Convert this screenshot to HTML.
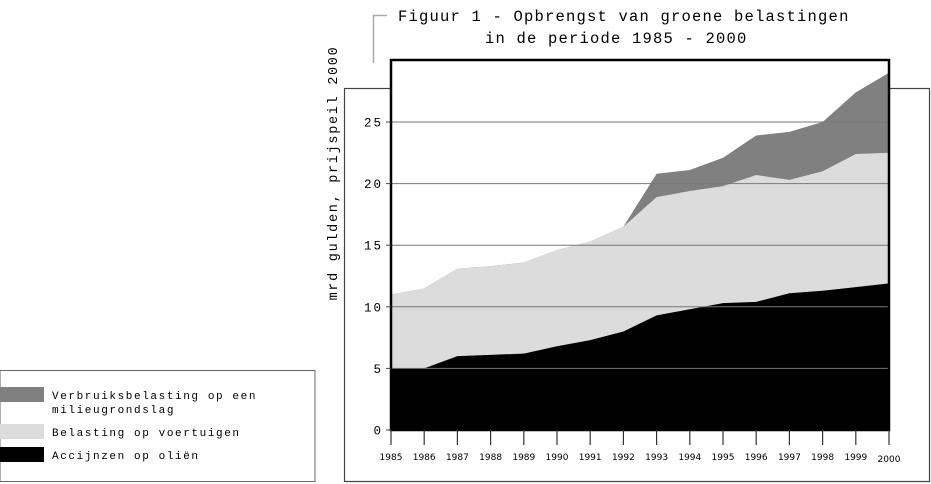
<!DOCTYPE html>
<html><head><meta charset="utf-8"><style>
body{margin:0;background:#fff;}
svg{display:block;}
.m{font-family:"Liberation Mono",monospace;}
.s{font-family:"DejaVu Sans","Liberation Sans",sans-serif;}
</style></head><body>
<svg width="931" height="484" viewBox="0 0 931 484" xmlns="http://www.w3.org/2000/svg">
<rect x="344.5" y="88.5" width="585" height="393" fill="#fff" stroke="#444" stroke-width="1.2"/>
<rect x="0" y="370.5" width="315" height="111" fill="#fff" stroke="#666" stroke-width="1"/>
<polyline points="373.5,63 373.5,15.5 387,15.5" fill="none" stroke="#aaa" stroke-width="1.5"/>
<text class="m" x="398" y="21" font-size="15.5" letter-spacing="1.2">Figuur 1 - Opbrengst van groene belastingen</text>
<text class="m" x="398" y="43" font-size="15.5" letter-spacing="1.2" dx="87">in de periode 1985 - 2000</text>
<text class="m" font-size="13.5" letter-spacing="1.7" transform="translate(337,173) rotate(-90)" text-anchor="middle">mrd gulden, prijspeil 2000</text>
<rect x="391" y="60" width="498" height="370" fill="#fff"/>
<g id="areas"></g>
<rect x="391" y="60" width="498" height="370" fill="none" stroke="#000" stroke-width="2.5"/>
<g id="ax"></g>
<rect x="0" y="387" width="44" height="15" fill="#808080"/>
<rect x="0" y="424" width="44" height="15" fill="#dcdcdc"/>
<rect x="0" y="447" width="44" height="15" fill="#000"/>
<g class="m" font-size="11" letter-spacing="1.6">
<text x="52" y="399">Verbruiksbelasting op een</text>
<text x="52" y="413">milieugrondslag</text>
<text x="52" y="436">Belasting op voertuigen</text>
<text x="52" y="459">Accijnzen op oliën</text>
</g>
</svg>
<script>
var b=[5,5,6,6.1,6.2,6.8,7.3,8,9.3,9.8,10.3,10.4,11.1,11.3,11.6,11.9];
var l=[11,11.5,13.1,13.3,13.6,14.6,15.3,16.5,18.9,19.4,19.8,20.7,20.3,21,22.4,22.5];
var d=[11,11.5,13.1,13.3,13.6,14.6,15.3,16.5,20.8,21.1,22.1,23.9,24.2,25,27.4,29];
function X(i){return 391+i*498/15;}function Y(v){return 430-v*12.32;}
function poly(a,c){var p=X(0)+","+430;for(var i=0;i<16;i++)p+=" "+X(i)+","+Y(a[i]);p+=" "+X(15)+",430";return '<polygon points="'+p+'" fill="'+c+'"/>';}
var h=poly(d,"#808080")+poly(l,"#dcdcdc")+poly(b,"#000");
for(var v=5;v<=25;v+=5)h+='<line x1="391" x2="889" y1="'+Y(v)+'" y2="'+Y(v)+'" stroke="#777" stroke-width="1"/>';
document.getElementById("areas").innerHTML=h;
var a="";
for(var v=0;v<=25;v+=5){a+='<line x1="386" x2="391" y1="'+Y(v)+'" y2="'+Y(v)+'" stroke="#444"/>';a+='<text class="m" x="383" y="'+(Y(v)+4.5)+'" font-size="12.5" letter-spacing="2" text-anchor="end">'+v+'</text>';}
for(var i=0;i<16;i++){a+='<line x1="'+X(i)+'" x2="'+X(i)+'" y1="430" y2="445" stroke="#333" stroke-width="1.2"/>';a+='<text class="s" x="'+X(i)+'" y="'+(i==15?462:460)+'" font-size="9" text-anchor="middle">'+(1985+i)+'</text>';}
document.getElementById("ax").innerHTML=a;
</script>
</body></html>
